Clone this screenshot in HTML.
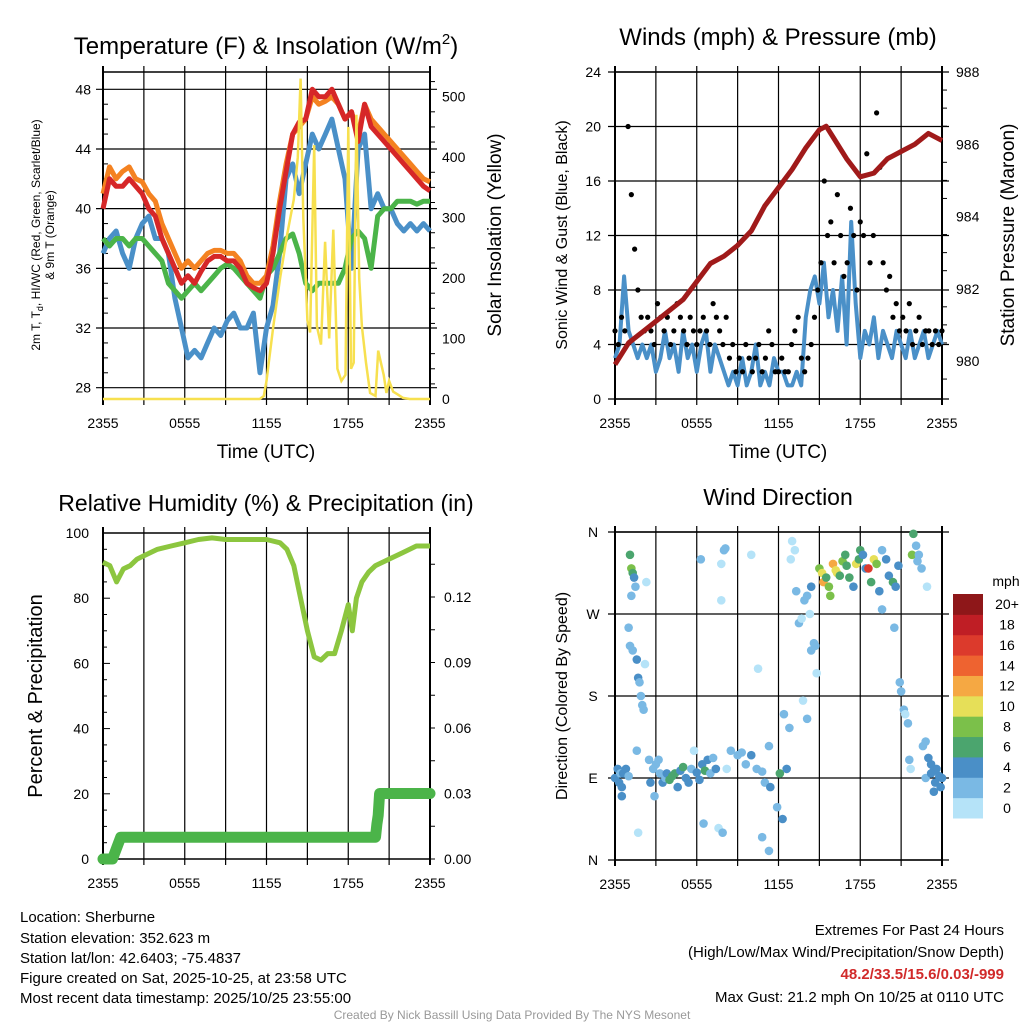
<!DOCTYPE html>
<html><head><meta charset="utf-8"><style>
body{margin:0;background:#fff;}
svg{display:block;font-family:"Liberation Sans",sans-serif;}
text{fill:#000;}
</style></head><body>
<svg id="c" width="1024" height="1024" viewBox="0 0 1024 1024">
<text x="266" y="54" font-size="24" text-anchor="middle">Temperature (F) &amp; Insolation (W/m<tspan dy="-10" font-size="15">2</tspan><tspan dy="10">)</tspan></text>
<text x="778" y="45" font-size="24" text-anchor="middle">Winds (mph) &amp; Pressure (mb)</text>
<text x="266" y="511" font-size="23" text-anchor="middle">Relative Humidity (%) &amp; Precipitation (in)</text>
<text x="778" y="505" font-size="23" text-anchor="middle">Wind Direction</text>
<text x="266" y="458" font-size="19" text-anchor="middle">Time (UTC)</text>
<text x="778" y="458" font-size="19" text-anchor="middle">Time (UTC)</text>
<text transform="translate(40,235) rotate(-90)" font-size="12" text-anchor="middle">2m T, T<tspan dy="3" font-size="9">d</tspan><tspan dy="-3">, HI/WC (Red, Green, Scarlet/Blue)</tspan></text>
<text transform="translate(54,235) rotate(-90)" font-size="12" text-anchor="middle">&amp; 9m T (Orange)</text>
<text transform="translate(501,235) rotate(-90)" font-size="19" text-anchor="middle">Solar Insolation (Yellow)</text>
<text transform="translate(567,235) rotate(-90)" font-size="16" text-anchor="middle">Sonic Wind &amp; Gust (Blue, Black)</text>
<text transform="translate(1014,235) rotate(-90)" font-size="19" text-anchor="middle">Station Pressure (Maroon)</text>
<text transform="translate(42,696) rotate(-90)" font-size="20" text-anchor="middle">Percent &amp; Precipitation</text>
<text transform="translate(567,696) rotate(-90)" font-size="16" text-anchor="middle">Direction (Colored By Speed)</text>
<g font-size="15">
<text x="20" y="922">Location: Sherburne</text>
<text x="20" y="943">Station elevation: 352.623 m</text>
<text x="20" y="963">Station lat/lon: 42.6403; -75.4837</text>
<text x="20" y="983">Figure created on Sat, 2025-10-25, at 23:58 UTC</text>
<text x="20" y="1003">Most recent data timestamp: 2025/10/25 23:55:00</text>
</g>
<g font-size="15" text-anchor="end">
<text x="1004" y="935">Extremes For Past 24 Hours</text>
<text x="1004" y="957">(High/Low/Max Wind/Precipitation/Snow Depth)</text>
<text x="1004" y="979" font-weight="bold" style="fill:#d12a2a">48.2/33.5/15.6/0.03/-999</text>
<text x="1004" y="1002">Max Gust: 21.2 mph On 10/25 at 0110 UTC</text>
</g>
<text x="512" y="1019" font-size="12" text-anchor="middle" style="fill:#999">Created By Nick Bassill Using Data Provided By The NYS Mesonet</text>
</svg>
<script>
// ---- data ----
const xTickLabels = ["2355","0555","1155","1755","2355"];
const tempTicks = [28,32,36,40,44,48];
const insTicks = [0,100,200,300,400,500];
const windTicks = [0,4,8,12,16,20,24];
const presTicks = [980,982,984,986,988];
const rhTicks = [0,20,40,60,80,100];
const precipTicks = [0.00,0.03,0.06,0.09,0.12];
const dirLabels = ["N","E","S","W","N"];
const speedBinLabels = ["0","2","4","6","8","10","12","14","16","18","20+"];
const speedBinColors = ["#b5e3f8","#7ab9e4","#4a8fc7","#4ba56e","#7bc04a","#e6df58","#f5a843","#ee6330","#dc3a2c","#bf1e25","#8e1719"];

const tempRed = [40,42,41.5,41.5,42,41.5,41,40,39.5,38,37,36,35,35.5,35,35.8,36.5,36.8,36.8,36.5,36.5,36,35,34.7,34.5,35,37,40,42.5,45,45.8,46,48,47.5,47.5,48,47,46,46.5,44.5,47,45.5,45,44.5,44,43.5,43,42.5,42,41.5,41.2];
const tempOrange = [41,42.8,42,42.5,42.8,42,41.8,41,40.5,39,38,37,36,36.5,36,36.5,37,37.2,37.2,37,37,36.5,35.5,35,35,35.5,37.5,40.5,43,45,45.5,46,47.5,47,47.2,47.5,47,46,46.5,45,47,46,45.5,45,44.5,44,43.5,43,42.5,42,41.8];
const tempGreen = [38,37.5,38,38,37.5,38,38,37.5,37,36.5,35,34.5,34,34.5,35,34.5,35,35.5,36,36.3,36,35.5,35,34.5,34,35.5,36,37,38,38.3,37,35,34.5,35,35,35,35,36,38,38.5,38,36,39.5,40,40,40.5,40.5,40.5,40.3,40.5,40.5];
const tempBlue = [37,38,38.5,37,36,38,39,39.5,38,38,37,34,32,30,30.5,30,31,32,31.5,32.5,33,32,32,33,29,32,33.5,37,42,43,41,43,45,44,45,46,44,42,36,44,45,40,41,40,40,39,38.5,39,38.5,39,38.5];
const insT = [0,11.5,11.8,12,12.5,13,13.5,14,14.3,14.5,14.7,15,15.2,15.5,15.7,16,16.3,16.6,16.9,17.2,17.5,17.8,18,18.2,18.4,18.6,18.8,19,19.3,19.6,20,20.2,20.4,20.6,20.8,21,21.3,21.6,22,22.5,24];
const insV = [0,0,5,30,120,200,270,330,400,530,300,130,110,420,120,90,260,100,280,50,30,40,450,50,60,470,200,120,60,10,5,80,60,40,10,30,12,8,2,0,0];
const presT = [0,1,2,3,4,5,6,7,8,9,10,11,12,13,14,15,15.5,16,17,18,19,20,21,22,23,24];
const presV = [979.9,980.5,980.8,981.1,981.4,981.7,982.2,982.7,982.9,983.2,983.6,984.3,984.8,985.3,985.9,986.4,986.5,986.2,985.6,985.1,985.2,985.6,985.8,986.0,986.3,986.1];
const windV = [3,4,9,5,4,3,4, 3,4,2,3,5,3, 4,2,5,3,4,2, 4,5,2,4,3,2, 1,2,1,3,1,2, 4,1,2,1,3,2, 2,1,1,2,1,6, 8,9,7,10,6,8, 5,9,4,13,7,3, 5,4,6,3,5,4, 3,5,4,3,5,3, 4,5,3,4,5,4];
const gustV = [5,4,6,5,20,15,11,8,6,5,6,5,4,7,6,5,6,4,5,7,6,5,4,6,5,4,5,6,5,4,7,6,5,4,6,3,4,2,3,2,4,3,2,3,4,2,3,5,4,2,2,3,2,2,4,5,6,3,2,3,4,6,8,10,16,12,13,10,15,12,9,10,14,12,8,13,12,18,10,12,21,17,10,8,9,6,7,5,6,5,7,4,5,6,4,5,5,4,5,4,5];
const rhT = [0,0.5,1,1.5,2,2.5,3,4,5,6,7,8,9,10,11,12,13,13.5,14,14.5,15,15.5,16,16.5,17,17.5,18,18.3,18.6,19,19.5,20,21,22,23,24];
const rhV = [91,90,85,89,90,92,93,95,96,97,98,98.5,98,98,98,98,97,95,90,80,70,62,61,63,63,70,78,70,80,85,88,90,92,94,96,96];
const precipT = [0,0.7,1.0,1.3,20.0,20.1,20.2,20.3,24];
const precipV = [0,0,0.005,0.01,0.01,0.016,0.02,0.03,0.03];
const dirT = [0,0.2,0.3,0.4,0.5,0.6,0.8,1,0.5,1.1,1.2,1.3,1.4,1.5,1.2,1.0,1.1,1.3,1.6,1.7,1.8,1.9,2,2.1,2.2,1.6,1.7,2.3,2.5,2.6,2.8,3,3.2,2.9,3.3,3.5,3.7,3.8,4,4.2,4.4,4.6,4.8,5,5.2,5.4,5.6,5.8,6,6.2,6.4,6.6,6.8,7,7.2,7.4,6.5,6.3,7.8,8,8.1,7.8,7.6,7.9,8.2,8.5,9,9.3,9.6,10,10.4,10.8,11,11.4,11.9,12.1,12.6,11.3,10,10.5,10.8,11.3,12.3,12.4,12.8,12.9,13,13.2,13.3,13.5,13.7,13.9,14.1,14.3,14.4,13.8,14.1,14.4,14.6,14.7,14.8,15,15.2,15.3,15.5,15.7,15.8,16,16.2,16.3,16.5,16.7,16.9,17,17.2,17.5,17.7,17.9,18,18.2,18.4,18.6,18.8,19,19.2,19.4,19.6,19.9,20.1,20.4,20.6,20.8,19.6,20.5,20.9,21,21.2,21.3,21.5,21.6,21.7,21.8,21.9,22.1,22.2,22.3,22.5,22.9,22.6,22.8,23,23.2,23.4,23.6,23.8,24,23.5,23.9,22.8,23.2,23.4];
const dirV = [90,100,85,95,80,95,100,92,70,335,320,315,310,300,290,255,235,230,220,200,195,180,170,165,215,120,30,305,110,85,100,105,110,70,95,85,90,95,88,92,95,80,98,102,90,85,100,120,96,88,105,98,110,95,112,100,40,330,325,340,342,285,35,30,100,120,115,118,105,115,100,97,85,80,58,95,100,125,335,210,25,10,45,160,145,330,350,340,295,260,265,285,290,270,300,175,155,230,238,235,205,320,315,305,310,300,290,325,318,315,312,328,335,323,310,300,325,330,340,335,320,320,305,330,325,295,340,330,312,305,300,323,275,255,195,185,165,160,150,110,100,335,358,345,328,335,320,300,125,130,112,105,98,100,92,90,85,80,90,95,75];
const dirS = [4,4,4,3,4,4,4,3,4,7,8,7,4,3,3,3,3,3,4,4,3,3,2,3,1,2,1,1,3,4,2,2,2,3,2,4,3,4,6,6,6,4,4,6,4,4,2,1,4,4,4,6,4,2,2,4,3,2,1,3,3,1,1,2,1,2,3,3,2,4,3,3,3,4,3,6,4,2,1,1,3,3,4,2,2,1,1,1,2,2,1,2,2,1,4,1,2,2,2,2,1,8,10,12,6,8,8,12,10,11,6,8,6,6,6,4,10,6,6,4,4,16,6,10,8,4,2,4,4,6,4,4,2,3,3,2,2,1,2,3,1,8,6,3,2,3,3,1,3,3,4,4,4,4,4,4,4,4,2,4,4];

// ---- helpers ----
const svg = document.getElementById('c');
const NS = 'http://www.w3.org/2000/svg';
function mk(tag, attrs, parent){const e=document.createElementNS(NS,tag);for(const k in attrs)e.setAttribute(k,attrs[k]);(parent||svg).appendChild(e);return e;}
function lin(d0,d1,r0,r1){return v=>r0+(v-d0)*(r1-r0)/(d1-d0);}
function path(xs,ys){return xs.map((x,i)=>(i?'L':'M')+x.toFixed(1)+' '+ys[i].toFixed(1)).join('');}
function even(n){return Array.from({length:n},(_,i)=>i*24/(n-1));}

function frame(L,R,T,B,name){
  const g=mk('g',{});
  
  
  const x=lin(0,24,L,R);
  for(let h=0;h<=24;h+=3){mk('line',{x1:x(h),x2:x(h),y1:T-6,y2:B+6,stroke:'#000','stroke-width':h%24?1.2:2},g);}
  xTickLabels.forEach((t,i)=>{const e=mk('text',{x:x(i*6),y:B+29,'font-size':14,'text-anchor':'middle'},g);e.textContent=t;});
  mk('rect',{x:L,y:T,width:R-L,height:B-T,fill:'none',stroke:'#000','stroke-width':1.5},g);
  return g;
}
function hgrid(g,ys,L,R){ys.forEach(y=>mk('line',{x1:L-7,x2:R+7,y1:y,y2:y,stroke:'#000','stroke-width':1.2},g));}
function ylabels(g,vals,yf,x,anchor,fmt){vals.forEach(v=>{const e=mk('text',{x:x,y:yf(v)+5,'font-size':14,'text-anchor':anchor},g);e.textContent=fmt?fmt(v):v;});}

// ===== Panel 1: temperature =====
{
 const L=103,R=430,T=72,B=399;
 const g=frame(L,R,T,B,'temperature-panel');
 const x=lin(0,24,L,R), y=lin(28,48,387.7,89.3), yi=lin(0,500,399,96.7);
 hgrid(g,tempTicks.map(y),L,R);
 for(let v=29;v<49;v++) if(v%4) mk('line',{x1:L,x2:L+5,y1:y(v),y2:y(v),stroke:'#000'},g);
 for(let v=25;v<=525;v+=25) if(v%100) mk('line',{x1:R,x2:R+5,y1:yi(v),y2:yi(v),stroke:'#000'},g);
 ylabels(g,tempTicks,y,L-12,'end');
 ylabels(g,insTicks,yi,R+12,'start');
 const series=[[tempBlue,'#4a90c8','dewpoint-hiwc-blue-line'],[tempGreen,'#4bb449','dewpoint-green-line'],[tempOrange,'#f48221','9m-temp-orange-line'],[tempRed,'#d62728','2m-temp-red-line']];
 series.forEach(s=>{const p=mk('path',{d:path(even(s[0].length).map(x),s[0].map(y)),fill:'none',stroke:s[1],'stroke-width':5,'stroke-linejoin':'round'},g);
  
  });
 const ins=mk('path',{d:path(insT.map(x),insV.map(yi)),fill:'none',stroke:'#f7e04f','stroke-width':2.5},g);
 
 
}
// ===== Panel 2: wind & pressure =====
{
 const L=615,R=942,T=72,B=399;
 const g=frame(L,R,T,B,'wind-panel');
 const x=lin(0,24,L,R), y=lin(0,24,B,T), yp=lin(980,988,361,72);
 hgrid(g,windTicks.map(y),L,R);
 for(let v=979.5;v<988;v+=0.5) if(v%2) mk('line',{x1:R,x2:R+5,y1:yp(v),y2:yp(v),stroke:'#000'},g);
 ylabels(g,windTicks,y,L-14,'end');
 ylabels(g,presTicks,yp,R+14,'start');
 const w=mk('path',{d:path(even(windV.length).map(x),windV.map(y)),fill:'none',stroke:'#4a90c8','stroke-width':4,'stroke-linejoin':'round'},g);
 
 
 const gt=even(gustV.length);
 gustV.forEach((v,i)=>{const c=mk('circle',{cx:x(gt[i]),cy:y(v),r:2.6,fill:'#000'},g);
  
  });
 const p=mk('path',{d:path(presT.map(x),presV.map(yp)),fill:'none',stroke:'#a01a1a','stroke-width':5,'stroke-linejoin':'round'},g);
 
 
}
// ===== Panel 3: RH & precip =====
{
 const L=103,R=430,T=533,B=859;
 const g=frame(L,R,T,B,'humidity-panel');
 const x=lin(0,24,L,R), y=lin(0,100,B,T), yp=lin(0,0.12,B,597);
 for(let v=0;v<=100;v+=5) mk('line',{x1:L,x2:L+(v%20?4:7),y1:y(v),y2:y(v),stroke:'#000'},g);
 for(let v=0;v<=0.15;v+=0.015) mk('line',{x1:R,x2:R+5,y1:yp(v),y2:yp(v),stroke:'#000'},g);
 ylabels(g,rhTicks,y,L-14,'end');
 ylabels(g,precipTicks,yp,R+14,'start',v=>v.toFixed(2));
 const rh=mk('path',{d:path(rhT.map(x),rhV.map(y)),fill:'none',stroke:'#8cc63f','stroke-width':5,'stroke-linejoin':'round'},g);
 
 
 const pp=mk('path',{d:path(precipT.map(x),precipV.map(yp)),fill:'none',stroke:'#4bb449','stroke-width':11,'stroke-linecap':'round','stroke-linejoin':'round'},g);
 
 
}
// ===== Panel 4: direction =====
{
 const L=615,R=942,T=532,B=860;
 const g=frame(L,R,T,B,'direction-panel');
 const x=lin(0,24,L,R), y=lin(0,360,B,T);
 hgrid(g,[0,90,180,270,360].map(y),L,R);
 dirLabels.forEach((t,i)=>{const e=mk('text',{x:L-22,y:y(i*90)+5,'font-size':14,'text-anchor':'middle'},g);e.textContent=t;});
 dirT.forEach((t,i)=>{const c=mk('circle',{cx:x(t),cy:y(dirV[i]),r:4.3,fill:speedBinColors[Math.min(10,Math.floor(dirS[i]/2))]},g);
  
  });
 const cb=mk('g',{});
 
 
 const bh=(818-594)/11;
 speedBinColors.forEach((c,i)=>{mk('rect',{x:953,y:818-(i+1)*bh,width:30,height:bh+0.5,fill:c},cb);
  const e=mk('text',{x:1007,y:818-(i+0.5)*bh+5,'font-size':14,'text-anchor':'middle'},cb);e.textContent=speedBinLabels[i];});
 const u=mk('text',{x:1006,y:586,'font-size':14,'text-anchor':'middle'},cb);u.textContent='mph';
}
</script>
</body></html>
